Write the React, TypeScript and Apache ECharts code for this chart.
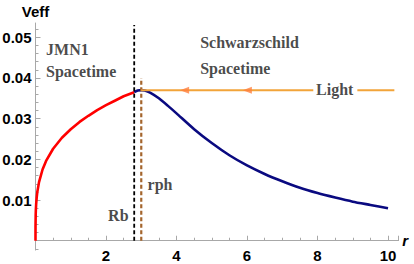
import React, { useEffect, useRef } from "react";
import * as echarts from "echarts";

// JMN1 interior (red) curve
const redR = [0, 0.0005, 0.005, 0.01, 0.02, 0.035, 0.05, 0.1, 0.2, 0.3, 0.5, 0.75, 1, 1.25, 1.5, 1.75, 2, 2.25, 2.5, 2.8];
const redV = [0, 0.0033, 0.0062, 0.0076, 0.0092, 0.0107, 0.0119, 0.0144, 0.0175, 0.0196, 0.0226, 0.0253, 0.0274, 0.0292, 0.0307, 0.0321, 0.0333, 0.0344, 0.0355, 0.0365];

// Schwarzschild exterior (blue) curve
const blueR = [2.8, 2.9, 3, 3.1, 3.25, 3.5, 3.75, 4, 4.5, 5, 5.5, 6, 6.5, 7, 7.5, 8, 8.5, 9, 9.5, 10];
const blueV = [0.0365, 0.0369, 0.037, 0.0369, 0.0364, 0.035, 0.0332, 0.0313, 0.0274, 0.024, 0.021, 0.0185, 0.0164, 0.0146, 0.013, 0.0117, 0.0106, 0.0096, 0.0088, 0.008];

// vertical dashed markers
const rbR = 2.8;
const rbTop = 0.053;
const rphR = 3.0;
const rphTop = 0.04;

// light ray (horizontal) with a gap for its label, and arrow heads
const lightLevel = 0.037;
const lightSegR = [3.0, 7.88, 9.13, 10.18];
const arrowR = [4.23, 6.01];

// annotations
const noteTexts = ["JMN1", "Spacetime", "Schwarzschild", "Spacetime", "Light", "rph", "Rb"];
const noteR = [0.3, 0.3, 4.67, 4.67, 7.96, 3.18, 2.06];
const noteV = [0.0469, 0.0415, 0.0486, 0.0424, 0.0371, 0.0137, 0.0063];

// axes
const xMin = 0;
const xMax = 10.3;
const xInterval = 2;
const yMin = -0.0023;
const yMax = 0.0535;
const yMajorTicks = [0.01, 0.02, 0.03, 0.04, 0.05];
const yMinorTicks = [-0.002, 0.002, 0.004, 0.006, 0.008, 0.012, 0.014, 0.016, 0.018, 0.022, 0.024, 0.026, 0.028, 0.032, 0.034, 0.036, 0.038, 0.042, 0.044, 0.046, 0.048, 0.052];

const axisGray = "#a8a8a8";
const serif = "'Liberation Serif', 'Times New Roman', serif";
const sans = "'Liberation Sans', Arial, sans-serif";

const gridTop = 23;
const gridBottom = 13.9;
const chartH = 264;

export default function App() {
  const ref = useRef<HTMLDivElement>(null);
  useEffect(() => {
    if (!ref.current) return;
    const chart = echarts.init(ref.current, null, { renderer: "svg" });
    const L = lightLevel;
    const plotH = chartH - gridTop - gridBottom;
    // lift the x axis from the grid's bottom edge up to the value 0 of the y axis
    const zeroLift = ((0 - yMin) / (yMax - yMin)) * plotH;
    chart.setOption({
      animation: false,
      backgroundColor: "#ffffff",
      grid: { left: 35.5, right: 15.4, top: gridTop, bottom: gridBottom, containLabel: false, outerBoundsMode: "none" },
      xAxis: {
        type: "value",
        min: xMin,
        max: xMax,
        interval: xInterval,
        offset: -zeroLift,
        name: "r",
        nameLocation: "end",
        nameGap: 3,
        nameTextStyle: { fontFamily: sans, fontStyle: "italic", fontWeight: "bold", fontSize: 15, color: "#000" },
        axisLine: { show: true, onZero: false, lineStyle: { color: axisGray, width: 1 } },
        axisTick: { show: true, inside: true, length: 5, lineStyle: { color: axisGray } },
        minorTick: { show: true, splitNumber: 4, length: 3, lineStyle: { color: axisGray } },
        axisLabel: {
          margin: 7,
          fontFamily: sans,
          fontWeight: "bold",
          fontSize: 15,
          color: "#000",
          formatter: (v: number) => (v === 0 ? "" : String(v)),
        },
        splitLine: { show: false },
      },
      yAxis: [
        {
          type: "value",
          min: yMin,
          max: yMax,
          name: "Veff",
          nameLocation: "end",
          nameGap: 4,
          nameTextStyle: { fontFamily: sans, fontWeight: "bold", fontSize: 15, color: "#000", align: "center" },
          axisLine: { show: true, onZero: false, lineStyle: { color: axisGray, width: 1 } },
          axisTick: { show: true, inside: true, length: 5, customValues: yMajorTicks, lineStyle: { color: axisGray } },
          axisLabel: {
            customValues: yMajorTicks,
            margin: 4,
            fontFamily: sans,
            fontWeight: "bold",
            fontSize: 15,
            color: "#000",
            formatter: (v: number) => v.toFixed(2),
          },
          splitLine: { show: false },
        },
        {
          type: "value",
          min: yMin,
          max: yMax,
          position: "left",
          offset: 0,
          axisLine: { show: false, onZero: false },
          axisTick: { show: true, inside: true, length: 3, customValues: yMinorTicks, lineStyle: { color: axisGray } },
          axisLabel: { show: false },
          splitLine: { show: false },
        },
      ],
      series: [
        {
          type: "line",
          data: redR.map((r, i) => [r, redV[i]]),
          showSymbol: false,
          lineStyle: { color: "#ff0000", width: 2.6 },
          z: 3,
        },
        {
          type: "line",
          data: blueR.map((r, i) => [r, blueV[i]]),
          showSymbol: false,
          smooth: 0.2,
          lineStyle: { color: "#0a0a80", width: 2.6 },
          z: 3,
        },
        {
          type: "line",
          data: [[rbR, 0], [rbR, rbTop]],
          showSymbol: false,
          lineStyle: { color: "#000000", width: 1.8, type: [4, 2.5] },
          z: 4,
        },
        {
          type: "line",
          data: [[rphR, 0], [rphR, rphTop]],
          showSymbol: false,
          lineStyle: { color: "#a4652d", width: 2.2, type: [4, 2.5] },
          z: 4,
        },
        {
          type: "line",
          data: [[lightSegR[0], L], [lightSegR[1], L], "-", [lightSegR[2], L], [lightSegR[3], L]],
          showSymbol: false,
          connectNulls: false,
          lineStyle: { color: "#f2a43a", width: 2 },
          z: 5,
        },
        {
          type: "scatter",
          data: arrowR.map((r) => [r, L]),
          symbol: "triangle",
          symbolRotate: 90,
          symbolSize: [7, 9],
          itemStyle: { color: "#ff7f3e" },
          z: 6,
        },
        {
          type: "scatter",
          data: noteTexts.map((t, i) => ({ name: t, value: [noteR[i], noteV[i]] })),
          symbolSize: 0,
          silent: true,
          label: {
            show: true,
            position: [0, 0],
            align: "left",
            verticalAlign: "middle",
            formatter: (p: any) => p.name,
            fontFamily: serif,
            fontWeight: "bold",
            fontSize: 16,
            color: "#1a1a1a",
          },
          z: 7,
        },
      ],
    });
    return () => chart.dispose();
  }, []);
  return <div ref={ref} style={{ position: "absolute", left: 0, top: 0, width: 414, height: 264 }} />;
}
